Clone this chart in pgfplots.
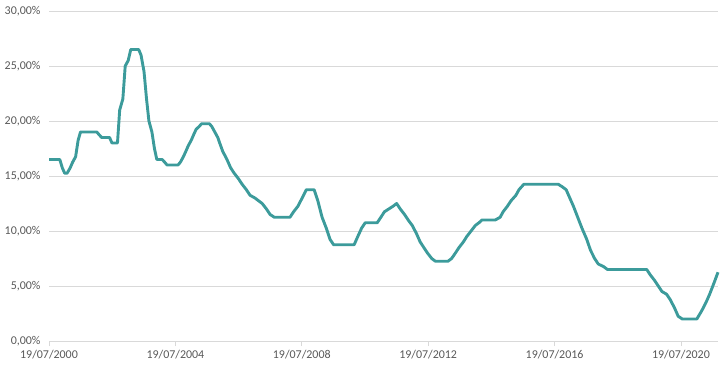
\documentclass[border=0pt]{standalone}
\usepackage{pgfplots}
\pgfplotsset{compat=1.18}
\usepackage{fontspec}
\setmainfont{Carlito}
\definecolor{linec}{RGB}{60,155,155}
\definecolor{gridc}{RGB}{217,217,217}
\definecolor{textc}{RGB}{89,89,89}
\begin{document}
\begin{tikzpicture}
\begin{axis}[name=ax,
  scale only axis, width=669bp, height=330bp,
  xmin=2000.548, xmax=2021.72, ymin=0, ymax=30,
  xtick={2000.548,2004.548,2008.548,2012.548,2016.548,2020.548},
  xticklabels={19/07/2000,19/07/2004,19/07/2008,19/07/2012,19/07/2016,19/07/2020},
  ytick={0,5,10,15,20,25,30},
  yticklabel={\pgfmathprintnumber{\tick}\%},
  /pgf/number format/.cd, fixed, fixed zerofill, precision=2, use comma, 1000 sep={}, assume math mode=true,
  /pgfplots/.cd,
  axis x line*=bottom, axis y line*=left,
  x axis line style={gridc, line width=0.8bp, -},
  y axis line style={draw=none},
  ymajorgrids, major grid style={gridc, line width=0.8bp},
  xtick style={gridc, line width=0.8bp}, xtick align=outside, major tick length=5bp,
  ytick style={draw=none},
  tick label style={font=\fontsize{12}{14}\selectfont, text=textc},
  yticklabel style={xshift=-5bp},
  xticklabel style={yshift=-1bp},
  clip=false,
]
\addplot[linec, line width=2.9bp, line join=round] coordinates {
(2000.548,16.5)(2000.89,16.5)(2000.968,15.75)(2001.045,15.25)(2001.12,15.25)(2001.22,15.75)(2001.295,16.25)(2001.39,16.75)(2001.47,18.25)(2001.545,19.0)
(2002.06,19.0)(2002.135,18.75)(2002.215,18.5)(2002.465,18.5)(2002.54,18.0)(2002.715,18.0)(2002.785,21.0)(2002.885,22.0)(2002.96,25.0)
(2003.055,25.5)(2003.135,26.5)(2003.385,26.5)(2003.46,26.0)(2003.555,24.5)(2003.635,22.0)(2003.71,20.0)(2003.805,19.0)(2003.885,17.5)(2003.96,16.5)
(2004.13,16.5)(2004.21,16.25)(2004.285,16.0)(2004.63,16.0)(2004.705,16.25)(2004.8,16.75)(2004.88,17.25)(2004.955,17.75)
(2005.05,18.25)(2005.125,18.75)(2005.205,19.25)(2005.3,19.5)(2005.375,19.75)(2005.625,19.75)(2005.7,19.5)(2005.795,19.0)(2005.89,18.5)(2005.95,18.0)
(2006.045,17.25)(2006.18,16.5)(2006.295,15.75)(2006.41,15.25)(2006.545,14.75)(2006.66,14.25)(2006.795,13.75)(2006.91,13.25)
(2007.065,13.0)(2007.18,12.75)(2007.295,12.5)(2007.43,12.0)(2007.545,11.5)(2007.68,11.25)
(2008.175,11.25)(2008.29,11.75)(2008.425,12.25)(2008.56,13.0)(2008.69,13.75)(2008.94,13.75)
(2009.055,12.75)(2009.19,11.25)(2009.325,10.25)(2009.44,9.25)(2009.555,8.75)
(2010.205,8.75)(2010.32,9.5)(2010.44,10.25)(2010.555,10.75)(2010.935,10.75)
(2011.05,11.25)(2011.165,11.75)(2011.3,12.0)(2011.435,12.25)(2011.55,12.5)(2011.665,12.0)(2011.8,11.5)(2011.915,11.0)
(2012.045,10.5)(2012.18,9.75)(2012.295,9.0)(2012.41,8.5)(2012.525,8.0)(2012.66,7.5)(2012.775,7.25)
(2013.175,7.25)(2013.29,7.5)(2013.41,8.0)(2013.525,8.5)(2013.66,9.0)(2013.77,9.5)(2013.905,10.0)
(2014.04,10.5)(2014.155,10.75)(2014.25,11.0)(2014.67,11.0)(2014.825,11.25)(2014.92,11.75)
(2015.055,12.25)(2015.17,12.75)(2015.325,13.25)(2015.42,13.75)(2015.575,14.25)
(2016.665,14.25)(2016.8,14.0)(2016.915,13.75)
(2017.03,13.0)(2017.145,12.25)(2017.28,11.25)(2017.415,10.25)(2017.565,9.25)(2017.685,8.25)(2017.815,7.5)(2017.93,7.0)
(2018.105,6.75)(2018.22,6.5)(2019.465,6.5)(2019.58,6.0)(2019.715,5.5)(2019.83,5.0)(2019.945,4.5)
(2020.095,4.25)(2020.21,3.75)(2020.345,3.0)(2020.46,2.25)(2020.59,2.0)
(2021.05,2.0)(2021.205,2.75)(2021.34,3.5)(2021.455,4.25)(2021.59,5.25)(2021.72,6.25)
};
\end{axis}
\pgfresetboundingbox
\path (ax.south west) ++(-49bp,-27bp) coordinate (bl);
\path (ax.north east) ++(5bp,11bp) coordinate (tr);
\path[use as bounding box] (bl) rectangle (tr);
\end{tikzpicture}
\end{document}
